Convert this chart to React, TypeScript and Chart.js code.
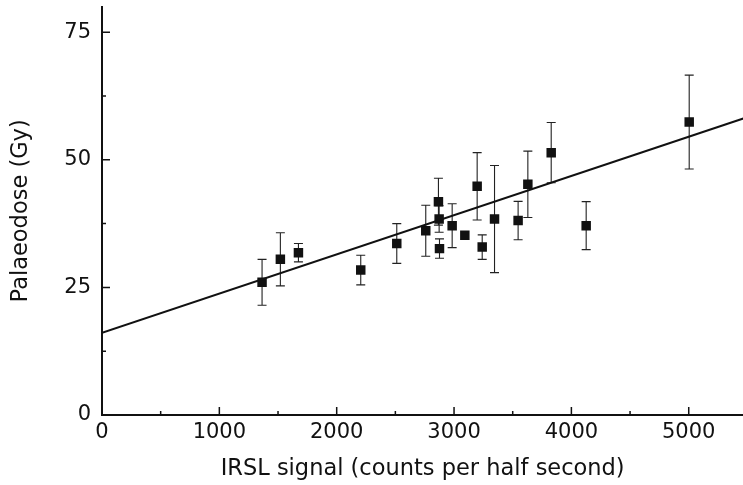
import React, { useEffect, useRef } from "react";
import { Chart, registerables } from "chart.js";

Chart.register(...registerables);

// IRSL signal (counts per half second)
const irslSignal = [1364, 1520, 1674, 2205, 2512, 2759, 2867, 2873, 2876, 2984, 3092, 3197, 3240, 3345, 3546, 3629, 3828, 4126, 5004];
// Palaeodose (Gy)
const palaeodose = [26.0, 30.5, 31.8, 28.4, 33.6, 36.1, 41.8, 38.4, 32.6, 37.1, 35.2, 44.8, 32.9, 38.4, 38.1, 45.2, 51.4, 37.1, 57.4];
// symmetric error (Gy)
const doseError = [4.5, 5.2, 1.8, 2.9, 3.9, 5.0, 4.6, 2.6, 1.9, 4.3, 0, 6.6, 2.4, 10.5, 3.75, 6.5, 5.9, 4.7, 9.2];

// regression line end points
const fitX = [0, 5465];
const fitY = [16.1, 58.1];

const xTicks = [0, 1000, 2000, 3000, 4000, 5000];
const xMinorTicks = [500, 1500, 2500, 3500, 4500, 5500];
const yTicks = [0, 25, 50, 75];
const yMinorTicks = [12.5, 37.5, 62.5];

const FONT = "'DejaVu Sans', sans-serif";
const INK = "#111111";

const customPlugin = {
  id: "errorsAndTicks",
  beforeDatasetsDraw(chart: any) {
    const ctx = chart.ctx;
    const xs = chart.scales.x;
    const ys = chart.scales.y;
    ctx.save();
    ctx.strokeStyle = "#222222";
    ctx.lineWidth = 1.1;
    for (let i = 0; i < irslSignal.length; i++) {
      const e = doseError[i];
      if (!e) continue;
      const px = xs.getPixelForValue(irslSignal[i]);
      const top = ys.getPixelForValue(palaeodose[i] + e);
      const bot = ys.getPixelForValue(palaeodose[i] - e);
      ctx.beginPath();
      ctx.moveTo(px, top);
      ctx.lineTo(px, bot);
      ctx.moveTo(px - 4.5, top);
      ctx.lineTo(px + 4.5, top);
      ctx.moveTo(px - 4.5, bot);
      ctx.lineTo(px + 4.5, bot);
      ctx.stroke();
    }
    ctx.restore();
  },
  afterDraw(chart: any) {
    const ctx = chart.ctx;
    const xs = chart.scales.x;
    const ys = chart.scales.y;
    const area = chart.chartArea;
    ctx.save();
    ctx.strokeStyle = INK;
    ctx.lineWidth = 1.5;
    ctx.beginPath();
    for (const v of xTicks) {
      const p = xs.getPixelForValue(v);
      ctx.moveTo(p, area.bottom);
      ctx.lineTo(p, area.bottom - 8);
    }
    for (const v of xMinorTicks) {
      const p = xs.getPixelForValue(v);
      if (p > area.right) continue;
      ctx.moveTo(p, area.bottom);
      ctx.lineTo(p, area.bottom - 4);
    }
    for (const v of yTicks) {
      const p = ys.getPixelForValue(v);
      ctx.moveTo(area.left, p);
      ctx.lineTo(area.left + 8, p);
    }
    for (const v of yMinorTicks) {
      const p = ys.getPixelForValue(v);
      ctx.moveTo(area.left, p);
      ctx.lineTo(area.left + 4, p);
    }
    ctx.stroke();
    ctx.restore();
  },
};

const CANVAS_W = 750;
const CANVAS_H = 485;

export default function App() {
  const ref = useRef<HTMLCanvasElement | null>(null);

  useEffect(() => {
    if (!ref.current) return;
    const chart = new Chart(ref.current, {
      type: "scatter",
      data: {
        datasets: [
          {
            type: "line",
            data: fitX.map((x, i) => ({ x, y: fitY[i] })),
            borderColor: INK,
            borderWidth: 2,
            pointRadius: 0,
            fill: false,
          } as any,
          {
            data: irslSignal.map((x, i) => ({ x, y: palaeodose[i] })),
            pointStyle: "rect",
            pointRadius: 6.7,
            backgroundColor: INK,
            borderColor: INK,
            borderWidth: 0,
          },
        ],
      },
      plugins: [customPlugin],
      options: {
        animation: false,
        responsive: false,
        maintainAspectRatio: false,
        layout: { padding: { left: 0, right: 0, top: 6, bottom: 0 } },
        plugins: {
          legend: { display: false },
          tooltip: { enabled: false },
        },
        scales: {
          x: {
            type: "linear",
            min: 0,
            max: 5465,
            afterFit: (s: any) => {
              s.height = 70;
              s.paddingLeft = 0;
              s.paddingRight = 0;
              s.paddingTop = 0;
              s.paddingBottom = 0;
            },
            afterBuildTicks: (s: any) => {
              s.ticks = xTicks.map((v) => ({ value: v }));
            },
            grid: { drawOnChartArea: false, drawTicks: false },
            border: { display: true, color: INK, width: 2 },
            ticks: {
              color: INK,
              font: { family: FONT, size: 21 },
              padding: 5,
              maxRotation: 0,
              callback: (v: any) => String(v),
            },
            title: {
              display: true,
              text: "IRSL signal (counts per half second)",
              color: INK,
              font: { family: FONT, size: 22.5 },
              padding: { top: 0, bottom: 2 },
            },
          },
          y: {
            type: "linear",
            min: 0,
            max: 80,
            afterFit: (s: any) => {
              s.width = 102;
              s.paddingLeft = 0;
              s.paddingRight = 0;
              s.paddingTop = 0;
              s.paddingBottom = 0;
            },
            afterBuildTicks: (s: any) => {
              s.ticks = yTicks.map((v) => ({ value: v }));
            },
            grid: { drawOnChartArea: false, drawTicks: false },
            border: { display: true, color: INK, width: 2 },
            ticks: {
              color: INK,
              font: { family: FONT, size: 21 },
              padding: 11,
              callback: (v: any) => String(v),
            },
            title: {
              display: true,
              text: "Palaeodose (Gy)",
              color: INK,
              font: { family: FONT, size: 22.5 },
              padding: { top: 8, bottom: 0 },
            },
          },
        },
      },
    });
    return () => chart.destroy();
  }, []);

  return (
    <div style={{ position: "fixed", left: 0, top: 0, width: 743, height: 485, background: "#fff", overflow: "hidden" }}>
      <canvas ref={ref} width={CANVAS_W} height={CANVAS_H} style={{ width: CANVAS_W, height: CANVAS_H, display: "block" }} />
    </div>
  );
}
